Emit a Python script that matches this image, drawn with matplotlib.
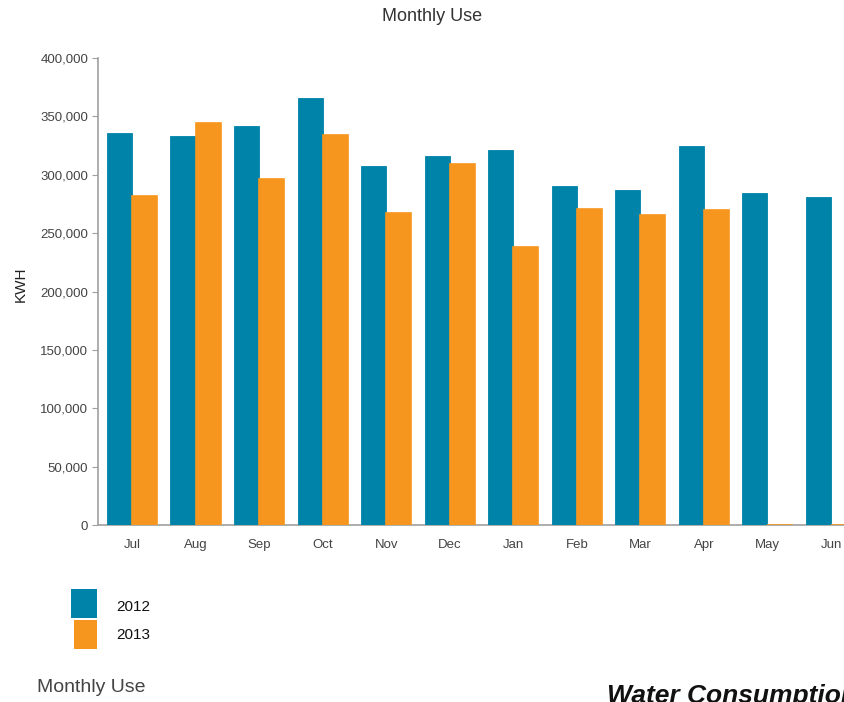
import numpy as np
import matplotlib
matplotlib.use("Agg")
import matplotlib.pyplot as plt
from matplotlib.patches import Rectangle
from matplotlib.ticker import FuncFormatter

months = ["Jul", "Aug", "Sep", "Oct", "Nov", "Dec", "Jan", "Feb", "Mar", "Apr", "May", "Jun"]
use_2012 = [335500, 333000, 341500, 365500, 307500, 316500, 321000, 290500, 287000, 325000, 284000, 281000]
use_2013 = [281500, 344500, 296500, 334000, 267000, 309000, 238500, 271000, 265500, 269500, 0, 0]
series_names = ["2012", "2013"]
yticks = [0, 50000, 100000, 150000, 200000, 250000, 300000, 350000, 400000]

BLUE = "#0083a9"
ORANGE = "#f7961f"

plt.rcParams["font.family"] = ["Liberation Sans", "DejaVu Sans"]

fig = plt.figure(figsize=(8.44, 7.02), dpi=100)
ax = fig.add_axes([0.1161, 0.2521, 0.9062, 0.6652])

x = np.arange(len(months))
w = 0.395
ax.bar(x - w / 2, use_2012, width=w, color=BLUE, edgecolor=BLUE, linewidth=0.6, zorder=3)
ax.bar(x + w / 2, use_2013, width=w, color=ORANGE, edgecolor=ORANGE, linewidth=1.2, zorder=3)

ax.set_xlim(-0.535, 11.5)
ax.set_ylim(0, 400000)
ax.set_yticks(yticks)
ax.yaxis.set_major_formatter(FuncFormatter(lambda v, p: f"{int(v):,}"))
ax.set_xticks(x)
ax.set_xticklabels(months)

for s in ["top", "right"]:
    ax.spines[s].set_visible(False)
for s in ["left", "bottom"]:
    ax.spines[s].set_color("#a0a0a0")
    ax.spines[s].set_linewidth(1.2)

ax.tick_params(axis="y", length=4, color="#a0a0a0", labelsize=9.5, labelcolor="#444444", pad=3)
ax.tick_params(axis="x", length=0, labelsize=9.5, labelcolor="#444444", pad=10)

ax.set_ylabel("KWH", fontsize=11, color="#222222")
ax.yaxis.set_label_coords(-0.092, 0.515)

fig.text(0.512, 0.9758, "Monthly Use", ha="center", va="center", fontsize=13, color="#333333")

# legend below the chart
colors = [BLUE, ORANGE]
for i, name in enumerate(series_names):
    top_px = 589 + i * 31
    left_px = 71 + i * 3
    fig.patches.append(Rectangle((left_px / 844, 1 - (top_px + 29) / 702), 26 / 844 - i * 3 / 844, 29 / 702,
                                 transform=fig.transFigure, facecolor=colors[i], edgecolor="none"))
    fig.text(116 / 844, 1 - (607 + i * 28) / 702, name, ha="left", va="center", fontsize=11, color="#111111")

fig.text(37 / 844, 1 - 688 / 702, "Monthly Use", ha="left", va="center", fontsize=14, color="#444444")
fig.text(607 / 844, 1 - 703 / 702, "Water Consumption", ha="left", va="baseline",
         fontsize=19, fontweight="bold", fontstyle="italic", color="#111111")

fig.savefig("out.png", dpi=100)
